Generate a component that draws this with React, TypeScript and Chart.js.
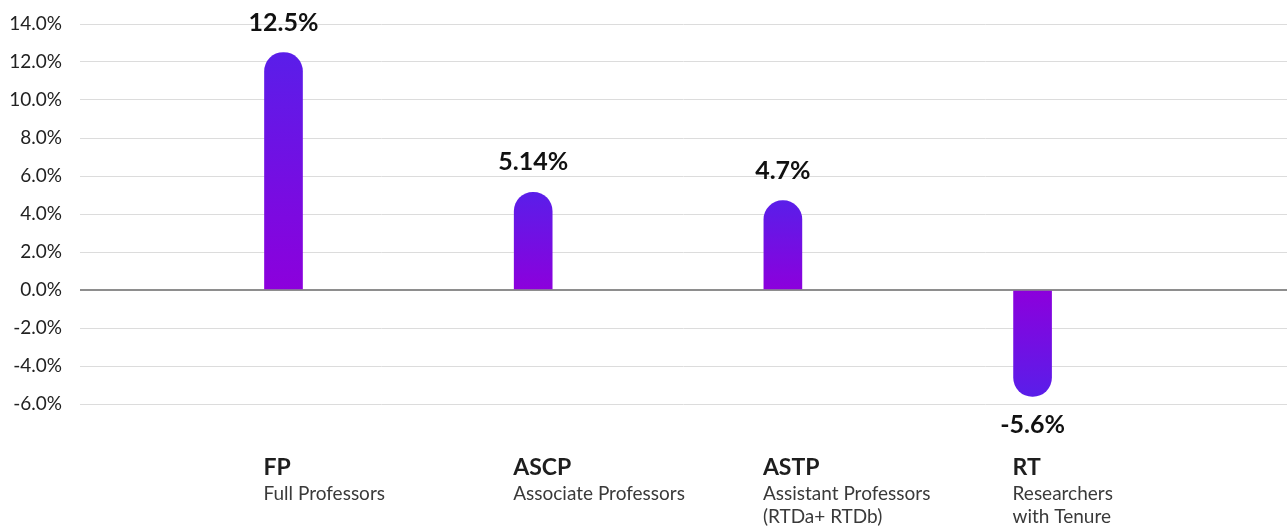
import React, { useEffect, useRef } from "react";
import { Chart, registerables } from "chart.js";

Chart.register(...registerables);

const codes = ["FP", "ASCP", "ASTP", "RT"];
const descriptions = [
  ["Full Professors"],
  ["Associate Professors"],
  ["Assistant Professors", "(RTDa+ RTDb)"],
  ["Researchers", "with Tenure"],
];
const values = [12.5, 5.14, 4.7, -5.6];
const valueLabels = ["12.5%", "5.14%", "4.7%", "-5.6%"];
const yMin = -6;
const yMax = 14;
const yStep = 2;

const FONT = "Lato, 'Noto Sans', sans-serif";

const labelPlugin = {
  id: "customLabels",
  afterDatasetsDraw(chart: any) {
    const ctx = chart.ctx;
    const meta = chart.getDatasetMeta(0);
    ctx.save();
    meta.data.forEach((bar: any, i: number) => {
      const v = values[i];
      ctx.font = `bold 25px ${FONT}`;
      ctx.fillStyle = "#111111";
      ctx.textAlign = "center";
      ctx.textBaseline = "middle";
      const ly = v >= 0 ? bar.y - 30 : bar.y + 29;
      ctx.fillText(valueLabels[i], bar.x, ly);
      const left = bar.x - bar.width / 2 - 1;
      ctx.textAlign = "left";
      ctx.font = `bold 23px ${FONT}`;
      ctx.fillStyle = "#1e1e1e";
      ctx.fillText(codes[i], left, 468);
      ctx.font = `19px ${FONT}`;
      ctx.fillStyle = "#3a3a3a";
      descriptions[i].forEach((line, j) => {
        ctx.fillText(line, left, 494 + j * 23);
      });
    });
    ctx.restore();
  },
};

export default function App() {
  const canvasRef = useRef<HTMLCanvasElement | null>(null);

  useEffect(() => {
    if (!canvasRef.current) return;
    const chart = new Chart(canvasRef.current, {
      type: "bar",
      data: {
        datasets: [
          {
            data: values.map((v, i) => ({ x: i + 1, y: v })),
            barThickness: 38,
            borderRadius: 19,
            borderSkipped: "start",
            backgroundColor: (c: any) => {
              const chart = c.chart;
              const ys = chart.scales?.y;
              if (!chart.chartArea || !ys || !c.raw) return "#7a10e4";
              const y0 = ys.getPixelForValue(0);
              const y1 = ys.getPixelForValue(c.raw.y);
              if (y0 === y1) return "#8a00dc";
              const g = chart.ctx.createLinearGradient(0, y0, 0, y1);
              g.addColorStop(0, "#8c00dc");
              g.addColorStop(1, "#5a1ee9");
              return g;
            },
          },
        ],
      },
      options: {
        animation: false,
        responsive: true,
        maintainAspectRatio: false,
        layout: { padding: { top: 24, bottom: 123, left: 0, right: 0 } },
        plugins: {
          legend: { display: false },
          tooltip: { enabled: false },
        },
        scales: {
          x: {
            type: "linear",
            display: false,
            offset: false,
            min: 0.185,
            max: 5.019,
          },
          y: {
            min: yMin,
            max: yMax,
            afterFit: (s: any) => {
              s.width = 80;
            },
            border: { display: false },
            grid: {
              drawTicks: false,
              color: (c: any) => (c.tick && c.tick.value === 0 ? "#8e8e8e" : "#dcdcdc"),
              lineWidth: (c: any) => (c.tick && c.tick.value === 0 ? 2 : 1),
            },
            ticks: {
              stepSize: yStep,
              padding: 18,
              color: "#222222",
              font: { family: FONT, size: 19, lineHeight: 0.5 },
              callback: (v: any) => Number(v).toFixed(1) + "%",
            },
          },
        },
      },
      plugins: [labelPlugin],
    } as any);
    return () => chart.destroy();
  }, []);

  return (
    <div style={{ position: "fixed", left: 0, top: 0, width: 1287, height: 527, background: "#fff" }}>
      <canvas ref={canvasRef} />
    </div>
  );
}
